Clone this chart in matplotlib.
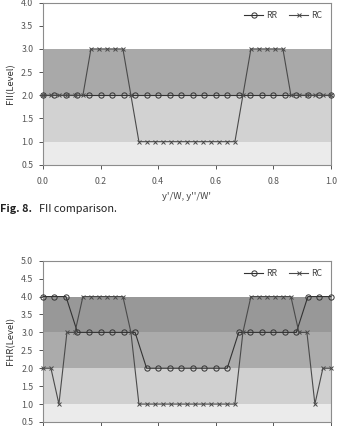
import matplotlib
matplotlib.use("Agg")
import matplotlib.pyplot as plt
import numpy as np

plt.rcParams['font.family'] = ['Noto Sans CJK KR', 'DejaVu Sans']

# FII (top)
fii_rr = [2, 2, 2, 2, 2, 2, 2, 2, 2, 2, 2, 2, 2, 2, 2, 2, 2, 2, 2, 2, 2, 2, 2, 2, 2, 2]
fii_rc = [2, 2, 2, 2, 2, 2, 3, 3, 3, 3, 3, 2, 1, 1, 1, 1, 1, 1, 1, 1, 1, 1, 1, 1, 1,
          2, 3, 3, 3, 3, 3, 2, 2, 2, 2, 2, 2]
# FHR (bottom)
fhr_rr = [4, 4, 4, 3, 3, 3, 3, 3, 3, 2, 2, 2, 2, 2, 2, 2, 2, 3, 3, 3, 3, 3, 3, 4, 4, 4]
fhr_rc = [2, 2, 1, 3, 3, 4, 4, 4, 4, 4, 4, 3, 1, 1, 1, 1, 1, 1, 1, 1, 1, 1, 1, 1, 1,
          3, 4, 4, 4, 4, 4, 4, 3, 3, 1, 2, 2]

xticks = [0.0, 0.2, 0.4, 0.6, 0.8, 1.0]
tick_col = "#555555"
spine_col = "#8c8c8c"


def style(ax, ymax):
    ax.set_xlim(0, 1)
    ax.set_ylim(0.5, ymax)
    ax.set_xticks(xticks)
    ax.set_xticklabels(["%.1f" % t for t in xticks])
    ax.set_yticks(np.arange(0.5, ymax + 0.01, 0.5))
    ax.set_yticklabels(["%.1f" % t for t in np.arange(0.5, ymax + 0.01, 0.5)])
    ax.tick_params(labelsize=6.3, colors=tick_col, length=3, width=0.7,
                   direction="out", pad=4)
    ax.tick_params(axis="x", pad=6)
    for s in ax.spines.values():
        s.set_color(spine_col)
        s.set_linewidth(0.8)


def draw(ax, rr, rc):
    x_rr = np.linspace(0, 1, len(rr))
    x_rc = np.linspace(0, 1, len(rc))
    ax.plot(x_rr, rr, color="#333333", lw=0.8, marker="o", ms=3.8,
            mfc="none", mec="#333333", mew=0.7, label="RR", clip_on=False, zorder=3)
    ax.plot(x_rc, rc, color="#4a4a4a", lw=0.8, marker="x", ms=3.3,
            mec="#4a4a4a", mew=0.7, label="RC", clip_on=False, zorder=3)
    ax.legend(loc="upper right", ncol=2, frameon=False, fontsize=6.3,
              handlelength=2.2, handletextpad=0.3, columnspacing=1.4,
              bbox_to_anchor=(0.99, 0.985), borderaxespad=0.3, labelcolor="#444444")


fig = plt.figure(figsize=(3.38, 4.26), dpi=100)

ax1 = fig.add_axes([0.127, 0.613, 0.852, 0.381])
ax1.axhspan(0.5, 1.0, color="#ebebeb", lw=0)
ax1.axhspan(1.0, 2.0, color="#d2d2d2", lw=0)
ax1.axhspan(2.0, 3.0, color="#a9a9a9", lw=0)
draw(ax1, fii_rr, fii_rc)
style(ax1, 4.0)
ax1.set_ylabel("FII(Level)", fontsize=6.8, color="#333333", labelpad=4)
ax1.set_xlabel("y'/W, y''/W'", fontsize=6.8, color="#444444", labelpad=4)

fig.text(0.0, 0.502, "Fig. 8.", fontsize=7.8, fontweight="bold", color="#222222")
fig.text(0.115, 0.502, "FII comparison.", fontsize=7.8, color="#222222")

ax2 = fig.add_axes([0.127, 0.0094, 0.852, 0.3786])
ax2.axhspan(0.5, 1.0, color="#ebebeb", lw=0)
ax2.axhspan(1.0, 2.0, color="#d0d0d0", lw=0)
ax2.axhspan(2.0, 3.0, color="#ababab", lw=0)
ax2.axhspan(3.0, 4.0, color="#989898", lw=0)
draw(ax2, fhr_rr, fhr_rc)
style(ax2, 5.0)
ax2.tick_params(axis="x", labelbottom=False)
ax2.set_ylabel("FHR(Level)", fontsize=6.8, color="#333333", labelpad=4)

fig.savefig("out.png", dpi=100)
